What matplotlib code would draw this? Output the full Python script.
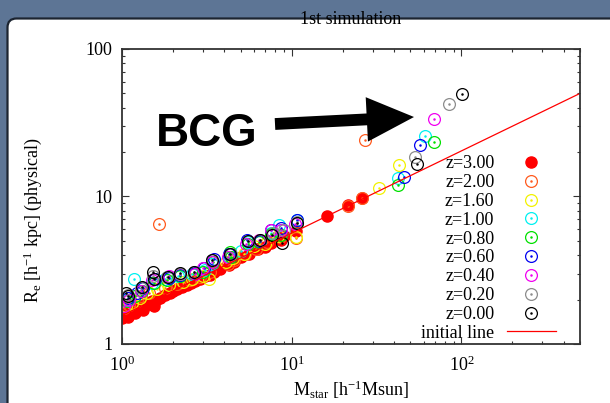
import matplotlib
matplotlib.use("Agg")
import matplotlib.pyplot as plt
from matplotlib.patches import FancyBboxPatch
from matplotlib.transforms import IdentityTransform
from matplotlib import ticker

plt.rcParams['font.family'] = ['Liberation Serif', 'DejaVu Serif']
plt.rcParams['mathtext.fontset'] = 'custom'
plt.rcParams['mathtext.rm'] = 'Liberation Serif'
plt.rcParams['mathtext.it'] = 'Liberation Serif:italic'

# stellar mass / effective radius of each galaxy, per redshift
z300_m = [1.0, 1.02, 1.05, 1.08, 1.1, 1.12, 1.16, 1.2, 1.22, 1.25, 1.3, 1.33, 1.36, 1.42,
          1.5, 1.55, 1.58, 1.68, 1.8, 1.92, 2.0, 2.1, 2.25, 2.4, 2.55, 2.7, 2.9, 3.1, 3.3,
          3.5, 3.8, 4.3, 4.6, 5.0, 5.6, 6.3, 7.0, 7.6, 8.7, 9.0, 10.6, 16.2, 21.6, 26.0]
z300_r = [1.5, 1.55, 1.62, 1.52, 1.7, 1.66, 1.70, 1.62, 1.78, 1.76, 1.80, 1.7, 1.84, 1.88,
          1.95, 1.82, 2.0, 2.05, 2.15, 2.2, 2.3, 2.35, 2.42, 2.5, 2.6, 2.66, 2.78, 2.88, 2.95,
          3.08, 3.2, 3.45, 3.6, 3.9, 4.1, 4.4, 4.55, 4.85, 5.05, 5.4, 5.8, 7.4, 8.7, 9.7]

z200_m = [1.03, 1.1, 1.22, 1.3, 1.45, 1.66, 1.8, 2.1, 2.5, 2.9, 3.3, 4.2, 4.6, 5.3, 6.2,
          7.2, 8.5, 10.6, 21.6, 26.0, 27.2]
z200_r = [1.75, 1.85, 1.95, 2.1, 2.2, 6.5, 2.4, 2.55, 2.7, 2.85, 3.1, 3.5, 3.7, 4.1, 4.4,
          4.9, 5.3, 5.2, 8.6, 9.8, 24.2]

z160_m = [1.05, 1.15, 1.28, 1.4, 1.6, 1.9, 2.3, 2.6, 3.0, 3.25, 4.1, 4.5, 5.2, 6.0, 7.0,
          8.3, 10.6, 32.6, 42.6]
z160_r = [1.8, 1.9, 2.05, 2.2, 2.35, 2.5, 2.65, 2.75, 2.9, 2.76, 3.6, 3.8, 4.1, 4.6, 4.8,
          5.4, 5.3, 11.5, 16.4]

z100_m = [1.05, 1.17, 1.3, 1.5, 1.8, 2.15, 2.6, 3.1, 3.4, 4.3, 5.0, 5.5, 6.5, 7.6, 8.4,
          10.7, 42.2, 61.1]
z100_r = [2.0, 2.74, 2.3, 2.6, 2.75, 2.9, 3.0, 3.15, 3.5, 3.9, 4.3, 4.9, 5.0, 5.7, 6.4,
          6.9, 13.3, 25.8]

z080_m = [1.07, 1.2, 1.32, 1.55, 1.85, 2.2, 2.65, 3.0, 3.45, 4.35, 4.4, 5.5, 6.4, 7.6,
          8.7, 10.8, 42.2, 68.7]
z080_r = [1.95, 2.1, 2.3, 2.6, 2.7, 2.9, 3.0, 3.1, 3.6, 4.2, 3.9, 4.8, 4.9, 5.6,
          5.5, 6.6, 12.0, 23.5]

z060_m = [1.08, 1.22, 1.33, 1.56, 1.88, 2.2, 2.7, 3.05, 3.5, 4.3, 5.45, 6.5, 7.6, 8.7,
          10.8, 46.2, 57.4]
z060_r = [2.05, 2.2, 2.4, 2.75, 2.8, 2.95, 3.05, 3.25, 3.75, 4.05, 5.07, 5.0, 5.9, 6.1,
          6.9, 13.6, 22.3]

z040_m = [1.03, 1.1, 1.3, 1.5, 1.9, 2.2, 2.7, 3.0, 3.4, 4.2, 5.4, 6.4, 7.6, 8.6, 10.5, 68.7]
z040_r = [1.8, 2.0, 2.3, 2.7, 2.9, 3.0, 3.0, 3.26, 3.6, 3.9, 4.8, 5.1, 5.9, 5.95, 6.5, 33.5]

z020_m = [1.08, 1.3, 1.53, 1.85, 2.2, 2.65, 3.4, 4.4, 5.5, 6.5, 7.8, 9.0, 10.8, 53.4, 84.0]
z020_r = [2.15, 2.4, 2.9, 2.85, 3.0, 3.1, 3.7, 4.1, 5.0, 5.1, 5.7, 5.9, 6.7, 18.5, 42.2]

z000_m = [1.06, 1.09, 1.31, 1.53, 1.55, 1.87, 2.19, 2.65, 3.37, 4.35, 5.5, 6.48, 7.7,
          8.8, 10.8, 54.6, 100.9]
z000_r = [2.2, 2.1, 2.42, 3.09, 2.75, 2.85, 3.01, 3.09, 3.71, 4.05, 5.0, 5.11, 5.5,
          4.86, 6.6, 16.6, 49.3]

line_m = [1.0, 500.0]
line_r = [1.56, 50.0]

labels = ['z=2.00', 'z=1.60', 'z=1.00', 'z=0.80', 'z=0.60', 'z=0.40', 'z=0.20', 'z=0.00']
colors = ['#ff5a1e', '#f2f200', '#00f0f0', '#00e000', '#0000f0', '#f000f0', '#8c8c8c', '#000000']
series_m = [z200_m, z160_m, z100_m, z080_m, z060_m, z040_m, z020_m, z000_m]
series_r = [z200_r, z160_r, z100_r, z080_r, z060_r, z040_r, z020_r, z000_r]

fig = plt.figure(figsize=(6.1, 4.03), dpi=100, facecolor='#5d7595')
panel = FancyBboxPatch((7.5, -30), 700, 424 - 9.5, boxstyle='round,pad=0,rounding_size=9',
                       transform=IdentityTransform(), fc='white', ec='#1c2430', lw=1.6, zorder=-5)
fig.add_artist(panel)

ax = fig.add_axes([122 / 610, 59 / 403, 458 / 610, 295 / 403])
ax.set_xscale('log')
ax.set_yscale('log')
ax.set_xlim(1, 500)
ax.set_ylim(1, 100)

handles = []
h3, = ax.plot(z300_m, z300_r, 'o', ms=8, color='#ff0000', mec='#ff0000', ls='none')
handles.append(h3)
for m, r, c in zip(series_m, series_r, colors):
    ring, = ax.plot(m, r, 'o', ms=8.5, mfc='none', mec=c, mew=0.9, ls='none')
    dot, = ax.plot(m, r, '.', ms=1.6, color=c, ls='none')
    handles.append((ring, dot))
hl, = ax.plot(line_m, line_r, '-', color='#ff0000', lw=0.9)
handles.append(hl)

ax.legend(handles, ['z=3.00'] + labels + ['initial line'], loc='lower right',
          bbox_to_anchor=(0.947, 0.008), frameon=False, fontsize=13, markerfirst=False,
          numpoints=1, labelspacing=0.1, handlelength=2.7, handletextpad=0.7,
          borderpad=0, borderaxespad=0)

ax.yaxis.set_major_formatter(ticker.FuncFormatter(lambda v, p: '%g' % v))
ax.tick_params(which='both', direction='in', top=True, right=True, labelsize=13,
               width=0.8, color='#333333')
ax.tick_params(which='major', length=5)
ax.tick_params(which='minor', length=2.5)
ax.tick_params(axis='x', pad=8)
ax.tick_params(axis='y', pad=7)
for s in ax.spines.values():
    s.set_linewidth(1.3)
    s.set_color('#333333')

ax.set_xlabel(r'M$_{\mathrm{star}}$ [h$^{\mathrm{-1}}$Msun]', fontsize=13)
ax.xaxis.set_label_coords(0.5, -0.118)
ax.set_ylabel(r'R$_{\mathrm{e}}$ [h$^{\mathrm{-1}}$ kpc] (physical)', fontsize=13)
ax.yaxis.set_label_coords(-0.17, 0.42)

fig.text(351 / 610, 383 / 403, '1st simulation', fontsize=13, ha='center', va='center')
fig.text(207 / 610, 256.5 / 403, 'BCG', fontsize=33, family='Liberation Sans',
         weight='bold', ha='center', va='baseline')
ax.annotate('', xy=(414, 286), xytext=(275, 279), xycoords='figure pixels',
            textcoords='figure pixels',
            arrowprops=dict(arrowstyle='simple,head_length=34,head_width=32,tail_width=8.5',
                            mutation_scale=1, fc='black', ec='none', lw=0,
                            shrinkA=0, shrinkB=0))

fig.savefig('out.png', dpi=100)
